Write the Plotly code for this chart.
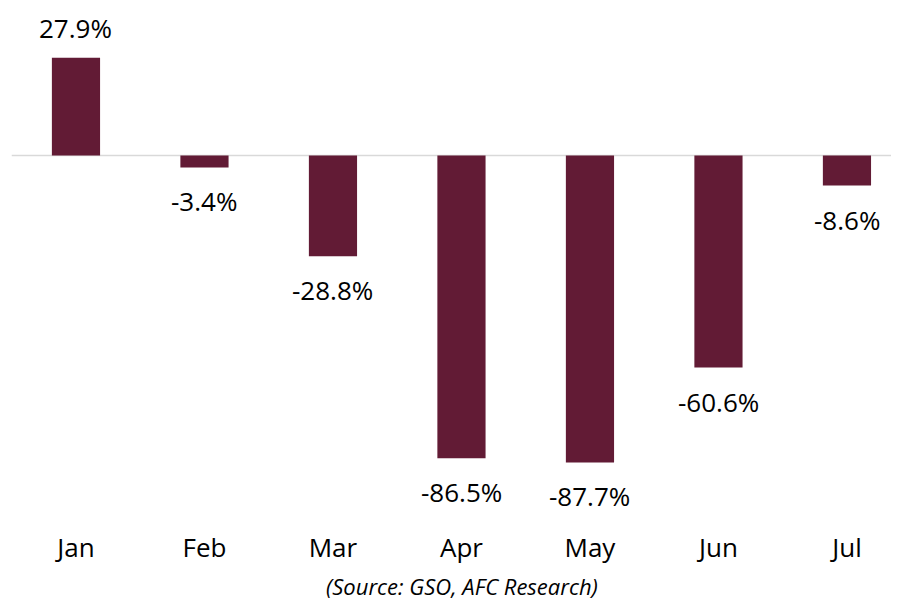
import plotly.graph_objects as go

months = ["Jan", "Feb", "Mar", "Apr", "May", "Jun", "Jul"]
values = [27.9, -3.4, -28.8, -86.5, -87.7, -60.6, -8.6]
labels = ["27.9%", "-3.4%", "-28.8%", "-86.5%", "-87.7%", "-60.6%", "-8.6%"]
source_text = "(Source: GSO, AFC Research)"

BAR = "#621b35"
FONT = "Open Sans"

fig = go.Figure()
fig.add_trace(go.Bar(
    x=list(range(len(months))), y=values, width=0.375,
    marker=dict(color=BAR, line=dict(width=0)),
    hoverinfo="skip",
))

for i, (v, t) in enumerate(zip(values, labels)):
    fig.add_annotation(
        x=i, y=v, text=t, showarrow=False, xref="x", yref="y",
        yanchor="middle", yshift=30 if v >= 0 else -34,
        font=dict(family=FONT, size=26, color="#000000"),
    )

fig.add_shape(type="line", xref="x", yref="y", x0=-0.5, x1=6.5, y0=0, y1=0,
              line=dict(color="#d9d9d9", width=1.5), layer="below")

fig.add_annotation(
    x=0.5095, y=-0.107, xref="paper", yref="paper", text="<i>" + source_text + "</i>",
    showarrow=False, yanchor="middle", xanchor="center",
    font=dict(family=FONT, size=22, color="#000000"),
)

fig.update_layout(
    width=891, height=595,
    margin=dict(l=0, r=0, t=0, b=73),
    plot_bgcolor="white", paper_bgcolor="white",
    showlegend=False,
    xaxis=dict(
        range=[-0.529, 6.405], tickmode="array",
        tickvals=list(range(len(months))), ticktext=months,
        showgrid=False, zeroline=False, showline=False, ticks="",
        tickfont=dict(family=FONT, size=26, color="#000000"),
    ),
    yaxis=dict(range=[-107.0, 42.14], visible=False, showgrid=False, zeroline=False),
)

fig.write_html("out.html")
